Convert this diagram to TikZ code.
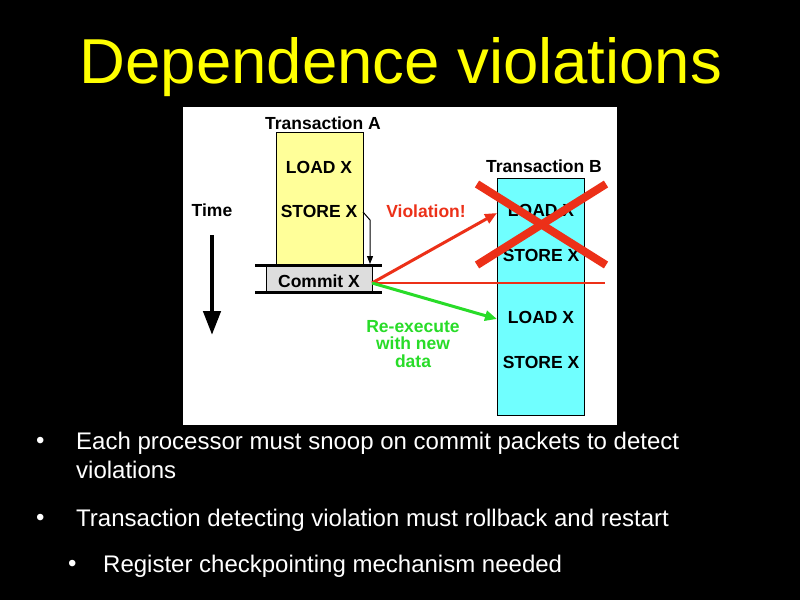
\documentclass[tikz,border=0pt]{standalone}
\usepackage{fontspec}
\setmainfont{Liberation Sans}
\usetikzlibrary{arrows.meta}
\definecolor{titley}{RGB}{255,255,0}
\definecolor{boxyel}{RGB}{255,255,153}
\definecolor{boxcyan}{RGB}{112,255,255}
\definecolor{boxgray}{RGB}{221,221,221}
\definecolor{violred}{RGB}{236,48,24}
\definecolor{regreen}{RGB}{40,220,40}
\tikzset{
  lbl/.style={font=\fontsize{17.5}{19}\selectfont\bfseries, inner sep=0pt},
  bul/.style={font=\fontsize{24}{28}\selectfont, text=white, inner sep=0pt, anchor=base west},
  txbox/.style={draw=black, line width=0.8pt},
}
\begin{document}
\begin{tikzpicture}[x=1pt,y=-1pt]
\useasboundingbox (0,0) rectangle (800,600);
\fill[black] (0,0) rectangle (800,600);
% title
\node[font=\fontsize{63.5}{68}\selectfont, text=titley, anchor=base, inner sep=0pt] (title) at (401,83) {Dependence violations};
% white panel
\fill[white] (183,107) rectangle (617,425);
% transaction A box
\draw[txbox, fill=boxyel] (276,132) rectangle (363,265);
\node[lbl] (ta) at (323,123) {Transaction A};
\node[lbl] (aload) at (319,167) {LOAD X};
\node[lbl] (astore) at (319,211) {STORE X};
% commit
\fill[boxgray] (266,265) rectangle (372,292);
\draw[line width=0.8pt] (266,265) -- (266,292) (372,265) -- (372,292);
\draw[line width=3pt] (255,265) -- (382,265);
\draw[line width=3pt] (255,292) -- (382,292);
\node[lbl] (commit) at (319,281) {Commit X};
\coordinate (cpt) at (372,283);
% small arrow
\coordinate (sa1) at (363,212);
\coordinate (sa2) at (370,220);
\coordinate (sa3) at (370,264);
\draw[line width=1pt, -{Triangle[width=6pt,length=8pt]}] (sa1) -- (sa2) -- (sa3);
% time
\node[lbl] (time) at (212,210) {Time};
\coordinate (t1) at (212,235);
\coordinate (t2) at (212,335);
\draw[line width=4.5pt, -{Triangle[width=17pt,length=24pt]}] (t1) -- (t2);
% transaction B
\draw[txbox, fill=boxcyan] (497,178) rectangle (584,415);
\node[lbl] (tb) at (544,166) {Transaction B};
\node[lbl] (bload1) at (541,210) {LOAD X};
\node[lbl] (bstore1) at (541,255) {STORE X};
\node[lbl] (bload2) at (541,317) {LOAD X};
\node[lbl] (bstore2) at (541,362) {STORE X};
% red X
\draw[violred, line width=8pt] (477,184) -- (606,265);
\draw[violred, line width=8pt] (477,265) -- (606,184);
% arrows
\coordinate (vend) at (497,213);
\coordinate (gend) at (497,319);
\coordinate (hend) at (605,283);
\draw[violred, line width=2pt] (cpt) -- (hend);
\draw[violred, line width=3pt, -{Triangle[width=10pt,length=12pt]}] (cpt) -- (vend);
\draw[regreen, line width=3pt, -{Triangle[width=10pt,length=12pt]}] (cpt) -- (gend);
\node[lbl, text=violred] (viol) at (426,211) {Violation!};
\node[lbl, text=regreen, align=center, font=\fontsize{17.5}{17.5}\selectfont\bfseries] (reex) at (413,344) {Re-execute\\with new\\data};
% bullets
\node[bul] (b1) at (36,448) {•};
\node[bul] (t1a) at (76,449) {Each processor must snoop on commit packets to detect};
\node[bul] (t1b) at (76,478) {violations};
\node[bul] (b2) at (36,525) {•};
\node[bul] (t2a) at (76,526) {Transaction detecting violation must rollback and restart};
\node[bul] (b3) at (68,571) {•};
\node[bul] (t3a) at (103,572) {Register checkpointing mechanism needed};
\end{tikzpicture}
\end{document}
